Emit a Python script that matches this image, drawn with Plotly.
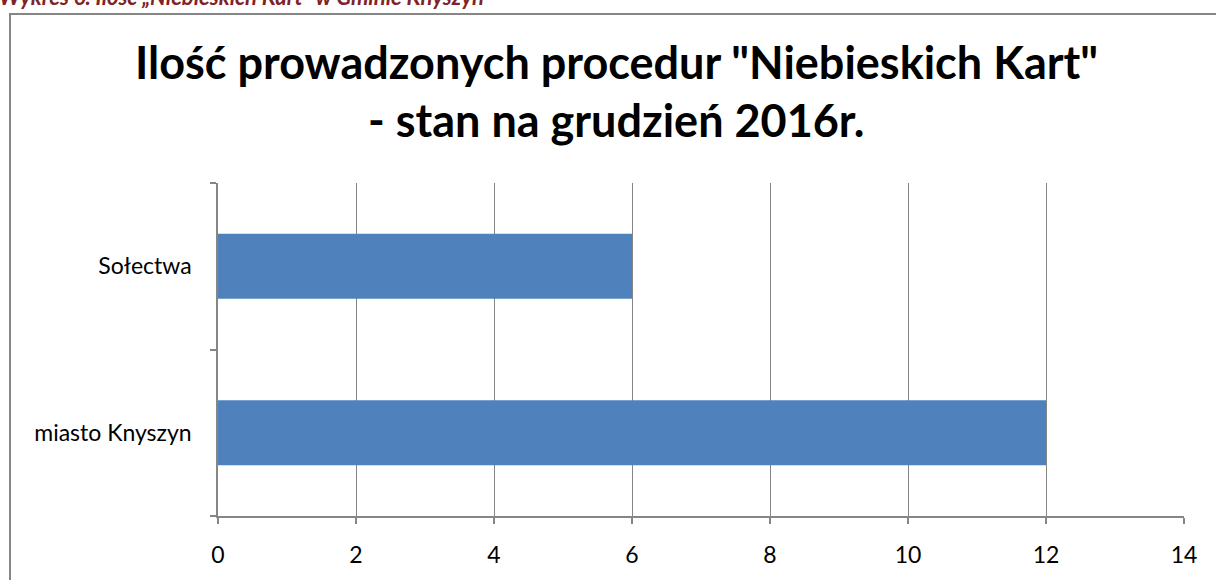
import plotly.graph_objects as go

categories = ["miasto Knyszyn", "Sołectwa"]
values = [12, 6]
x_ticks = [0, 2, 4, 6, 8, 10, 12, 14]

title_line1 = 'Ilość prowadzonych procedur "Niebieskich Kart"'
title_line2 = '- stan na grudzień 2016r.'
caption = 'Wykres 6. Ilość „Niebieskich Kart" w Gminie Knyszyn'

W, H = 1216, 580
L, R, T, B = 218, 1184, 183, 520
pw, ph = R - L, B - T

def px(x):
    return (x - L) / pw

def py(y):
    return 1 + (T - y) / ph

fig = go.Figure()
fig.add_trace(go.Bar(
    y=categories, x=values, orientation="h",
    marker=dict(color="#4F81BD", line=dict(width=0)),
    width=0.39,
))

font_family = "Lato, 'Open Sans', sans-serif"
grey = "#868686"

fig.update_layout(
    width=W, height=H,
    margin=dict(l=L, r=W - R, t=T, b=H - B),
    paper_bgcolor="white", plot_bgcolor="white",
    showlegend=False,
    font=dict(family=font_family, color="black", size=23),
    xaxis=dict(
        range=[0, 14], tickvals=x_ticks, showgrid=True, gridcolor=grey, gridwidth=1,
        showline=True, linecolor=grey, linewidth=1.5, ticks="outside", ticklen=6,
        tickcolor=grey, tickwidth=1.5, zeroline=False, ticklabelstandoff=12,
        tickfont=dict(size=23, family=font_family), fixedrange=True,
    ),
    yaxis=dict(
        type="category", categoryorder="array", categoryarray=categories,
        range=[-0.5, 1.5], tickson="boundaries", ticks="outside", ticklen=6,
        tickcolor=grey, tickwidth=1.5, showline=True, linecolor=grey, linewidth=1.5,
        showgrid=False, ticklabelstandoff=20, tickfont=dict(size=23, family=font_family),
        fixedrange=True,
    ),
    bargap=0.61,
)

fig.add_shape(type="rect", xref="paper", yref="paper",
              x0=px(10), y0=py(12), x1=px(1240), y1=py(620),
              line=dict(color=grey, width=2), fillcolor="rgba(0,0,0,0)", layer="below")

fig.add_annotation(text=f"<b>{title_line1}</b>", xref="paper", yref="paper",
                   x=px(616), y=py(61), xanchor="center", yanchor="middle",
                   showarrow=False, font=dict(size=45, family=font_family, color="black"))
fig.add_annotation(text=f"<b>{title_line2}</b>", xref="paper", yref="paper",
                   x=px(616), y=py(119), xanchor="center", yanchor="middle",
                   showarrow=False, font=dict(size=45, family=font_family, color="black"))
fig.add_annotation(text=f"<b><i>{caption}</i></b>", xref="paper", yref="paper",
                   x=px(-3), y=py(-6), xanchor="left", yanchor="middle",
                   showarrow=False, font=dict(size=22, family=font_family, color="#7F2426"))

fig.write_html("out.html", config={"displayModeBar": False},
               post_script="document.body.style.margin='0';document.body.style.overflow='hidden';")
